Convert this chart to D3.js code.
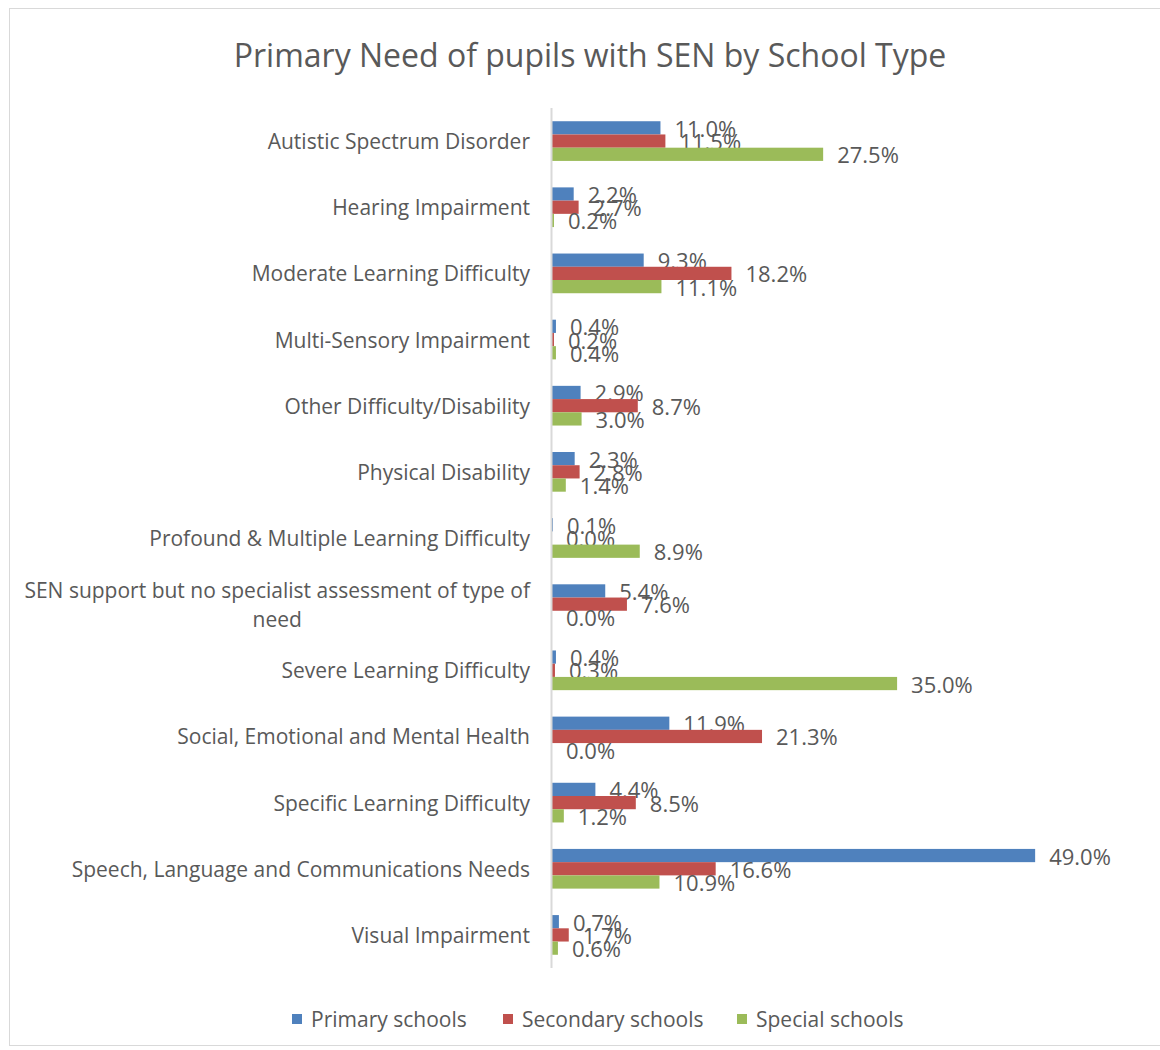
<!DOCTYPE html>
<html>
<head>
<meta charset="utf-8">
<script src="https://cdn.jsdelivr.net/npm/d3@7"></script>
<style>
  body { margin: 0; background: #fff; }
  text { font-family: "Segoe UI", "Open Sans", "Noto Sans", sans-serif; fill: #595959; }
</style>
</head>
<body>
<div id="chart"></div>
<script>
// values (percent of pupils with SEN)
var categories = [
  "Autistic Spectrum Disorder",
  "Hearing Impairment",
  "Moderate Learning Difficulty",
  "Multi-Sensory Impairment",
  "Other Difficulty/Disability",
  "Physical Disability",
  "Profound & Multiple Learning Difficulty",
  "SEN support but no specialist assessment of type of need",
  "Severe Learning Difficulty",
  "Social, Emotional and Mental Health",
  "Specific Learning Difficulty",
  "Speech, Language and Communications Needs",
  "Visual Impairment"
];
var seriesNames = ["Primary schools", "Secondary schools", "Special schools"];
var primary   = [11.0, 2.2, 9.3, 0.4, 2.9, 2.3, 0.1, 5.4, 0.4, 11.9, 4.4, 49.0, 0.7];
var secondary = [11.5, 2.7, 18.2, 0.2, 8.7, 2.8, 0.0, 7.6, 0.3, 21.3, 8.5, 16.6, 1.7];
var special   = [27.5, 0.2, 11.1, 0.4, 3.0, 1.4, 8.9, 0.0, 35.0, 0.0, 1.2, 10.9, 0.6];
var colors = ["#4F81BD", "#C0504D", "#9BBB59"];

var W = 1160, H = 1050;
var svg = d3.select("#chart").append("svg").attr("width", W).attr("height", H);

// chart area border
svg.append("rect")
    .attr("x", 9.5).attr("y", 8.5)
    .attr("width", W).attr("height", 1037)
    .attr("fill", "none").attr("stroke", "#d9d9d9");

svg.append("text")
    .attr("x", 590).attr("y", 54)
    .attr("text-anchor", "middle").attr("dominant-baseline", "central")
    .style("font-size", "32px")
    .text("Primary Need of pupils with SEN by School Type");

var x = d3.scaleLinear().domain([0, 50]).range([552, 1045]);
var y = d3.scaleBand().domain(categories).range([108, 968]).paddingInner(0.4).paddingOuter(0.2);
var ys = d3.scaleBand().domain(seriesNames).range([0, y.bandwidth()]);

var rows = categories.map(function(c, i) {
  return { cat: c, vals: [primary[i], secondary[i], special[i]] };
});

var groups = svg.selectAll(".grp")
    .data(rows)
    .enter().append("g")
    .attr("class", "grp")
    .attr("transform", function(d) { return "translate(0," + y(d.cat) + ")"; });

var cells = groups.selectAll(".cell")
    .data(function(d) { return d.vals.map(function(v, k) { return { v: v, s: seriesNames[k], k: k }; }); })
    .enter().append("g").attr("class", "cell");

cells.append("rect")
    .attr("x", x(0))
    .attr("y", function(d) { return ys(d.s); })
    .attr("width", function(d) { return x(d.v) - x(0); })
    .attr("height", ys.bandwidth())
    .attr("fill", function(d) { return colors[d.k]; });

cells.append("text")
    .attr("x", function(d) { return x(d.v) + 14; })
    .attr("y", function(d) { return ys(d.s) + ys.bandwidth() / 2; })
    .attr("dominant-baseline", "central")
    .style("font-size", "22px")
    .text(function(d) { return d.v.toFixed(1) + "%"; });

// vertical category axis line
svg.append("line")
    .attr("x1", x(0) - 0.5).attr("x2", x(0) - 0.5)
    .attr("y1", 108).attr("y2", 968)
    .attr("stroke", "#d9d9d9").attr("stroke-width", 2);

// category labels, wrapped and centred as a block when too long
var labelRight = 530, maxWidth = 515;
categories.forEach(function(c) {
  var cy = y(c) + y.bandwidth() / 2;
  var probe = svg.append("text").style("font-size", "21px");
  var words = c.split(" "), lines = [], line = [];
  words.forEach(function(w) {
    line.push(w);
    probe.text(line.join(" "));
    if (probe.node().getComputedTextLength() > maxWidth && line.length > 1) {
      line.pop();
      lines.push(line.join(" "));
      line = [w];
    }
  });
  lines.push(line.join(" "));
  probe.remove();

  var t = svg.append("text")
      .style("font-size", "21px")
      .attr("dominant-baseline", "central");
  if (lines.length === 1) {
    t.attr("x", labelRight).attr("y", cy).attr("text-anchor", "end").text(c);
  } else {
    var lh = 29;
    var widest = 0;
    lines.forEach(function(l, i) {
      var ts = t.append("tspan").attr("y", cy + (i - (lines.length - 1) / 2) * lh).text(l);
      widest = Math.max(widest, ts.node().getComputedTextLength());
    });
    t.attr("text-anchor", "middle");
    t.selectAll("tspan").attr("x", labelRight - widest / 2);
  }
});

// legend
var legendX = [292, 503, 737];
var legend = svg.selectAll(".leg")
    .data(seriesNames)
    .enter().append("g")
    .attr("class", "leg")
    .attr("transform", function(d, i) { return "translate(" + legendX[i] + ",1019)"; });
legend.append("rect")
    .attr("x", 0).attr("y", -5).attr("width", 10).attr("height", 10)
    .attr("fill", function(d, i) { return colors[i]; });
legend.append("text")
    .attr("x", 19).attr("y", 0)
    .attr("dominant-baseline", "central")
    .style("font-size", "21px")
    .text(function(d) { return d; });
</script>
</body>
</html>
